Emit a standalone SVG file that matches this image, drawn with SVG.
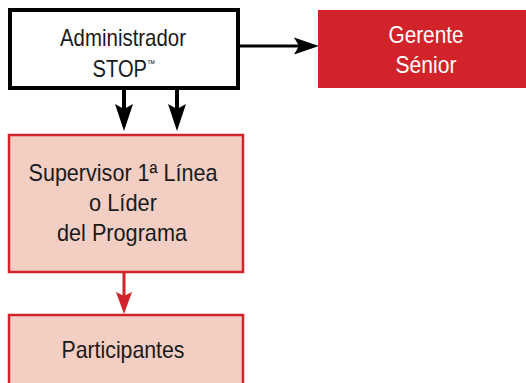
<svg xmlns="http://www.w3.org/2000/svg" width="526" height="383" viewBox="0 0 526 383">
<defs>
<style>
.t{font-family:"Liberation Sans",Arial,sans-serif;font-size:24px;text-anchor:middle;fill:#1a1a1a}
.w{fill:#ffffff}
.tm{font-size:10px}
.pink{fill:#f2cec3;stroke:#d2232a;stroke-width:2.5}
</style>
</defs>
<rect width="526" height="383" fill="#fff"/>
<g id="connectors">
<line x1="124" y1="88" x2="124" y2="110" stroke="#000" stroke-width="4"/>
<path d="M115,104 L124,131 L133,104 L124,109 Z" fill="#000"/>
<line x1="177" y1="88" x2="177" y2="110" stroke="#000" stroke-width="4"/>
<path d="M168,104 L177,131 L186,104 L177,109 Z" fill="#000"/>
<line x1="240" y1="46" x2="300" y2="46" stroke="#000" stroke-width="3"/>
<path d="M294,37.5 L319,46 L294,54.5 L299,46 Z" fill="#000"/>
<line x1="124" y1="273" x2="124" y2="297" stroke="#d2232a" stroke-width="3"/>
<path d="M116,292 L124,314 L132,292 L124,296 Z" fill="#d2232a"/>
</g>
<g id="admin">
<rect x="10" y="10" width="228" height="78" fill="#fff" stroke="#000" stroke-width="4"/>
<text class="t" x="123" y="46" textLength="126" lengthAdjust="spacingAndGlyphs">Administrador</text>
<text class="t" transform="translate(124,77) scale(0.84,1)" x="0" y="0">STOP<tspan class="tm" dy="-10">™</tspan></text>
</g>
<g id="gerente">
<rect x="318" y="10" width="216" height="78" fill="#d2232a"/>
<text class="t w" x="426" y="43" textLength="75" lengthAdjust="spacingAndGlyphs">Gerente</text>
<text class="t w" x="426" y="73" textLength="61" lengthAdjust="spacingAndGlyphs">Sénior</text>
</g>
<g id="supervisor">
<rect class="pink" x="9" y="135" width="234" height="137"/>
<text class="t" x="123" y="181" textLength="189" lengthAdjust="spacingAndGlyphs">Supervisor 1ª Línea</text>
<text class="t" x="123" y="211" textLength="68" lengthAdjust="spacingAndGlyphs">o Líder</text>
<text class="t" x="122" y="241" textLength="130" lengthAdjust="spacingAndGlyphs">del Programa</text>
</g>
<g id="participantes">
<rect class="pink" x="9" y="315" width="234" height="80"/>
<text class="t" x="123" y="358" textLength="123" lengthAdjust="spacingAndGlyphs">Participantes</text>
</g>
</svg>
